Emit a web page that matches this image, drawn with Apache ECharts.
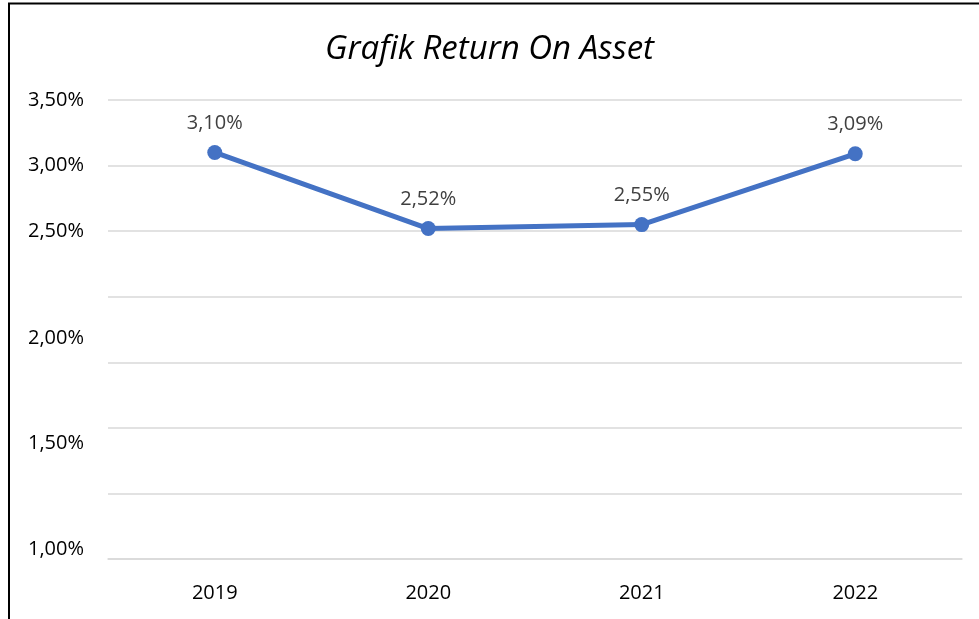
<!DOCTYPE html>
<html>
<head>
<meta charset="utf-8">
<script src="https://cdn.jsdelivr.net/npm/echarts@6/dist/echarts.min.js"></script>
<style>
  html, body { margin: 0; padding: 0; background: #fff; }
  #chart { width: 979px; height: 619px; }
</style>
</head>
<body>
<div id="chart"></div>
<script>
// data
var years = ['2019', '2020', '2021', '2022']
var roa = [3.10, 2.52, 2.55, 3.09]
// tick labels (the lower ones sit on their own spacing in the original)
var upperTicks = [2.5, 3.0, 3.5]
var lowerTicks = [1.0, 1.5, 2.0]

var font = 'Open Sans'
function pct (v) { return v.toFixed(2).replace('.', ',') + '%' }

var chart = echarts.init(document.getElementById('chart'))
chart.setOption({
  backgroundColor: '#fff',
  animation: false,
  title: {
    text: 'Grafik Return On Asset',
    left: 'center',
    top: 28,
    textStyle: { fontFamily: font, fontStyle: 'italic', fontWeight: 'normal', fontSize: 33, color: '#000' }
  },
  grid: { left: 108, right: 17, top: 100, bottom: 60 },
  xAxis: {
    type: 'category',
    data: years,
    axisLine: { lineStyle: { color: '#d9d9d9', width: 1.5 } },
    axisTick: { show: false },
    axisLabel: { color: '#000', fontFamily: font, fontSize: 20, margin: 24 }
  },
  yAxis: [
    {
      type: 'value',
      min: 0,
      max: 3.5,
      interval: 0.5,
      axisLine: { show: false },
      axisTick: { show: false },
      splitLine: { lineStyle: { color: '#d9d9d9', width: 1.5 } },
      axisLabel: { customValues: upperTicks, formatter: pct, color: '#000', fontFamily: font, fontSize: 20, margin: 24 }
    },
    {
      type: 'value',
      position: 'left',
      min: 0.952,
      max: 3.127,
      axisLine: { show: false },
      axisTick: { show: false },
      splitLine: { show: false },
      axisLabel: { customValues: lowerTicks, formatter: pct, color: '#000', fontFamily: font, fontSize: 20, margin: 24 }
    }
  ],
  series: [{
    type: 'line',
    yAxisIndex: 0,
    data: roa,
    symbol: 'circle',
    symbolSize: 15,
    lineStyle: { color: '#4472c4', width: 5 },
    itemStyle: { color: '#4472c4' },
    label: {
      show: true,
      position: 'top',
      distance: 12,
      formatter: function (p) { return pct(p.value) },
      color: '#404040',
      fontFamily: font,
      fontSize: 20
    }
  }],
  graphic: [{
    type: 'rect',
    shape: { x: 9, y: 3.5, width: 1100, height: 800 },
    style: { fill: null, stroke: '#000', lineWidth: 2 },
    silent: true
  }]
})
</script>
</body>
</html>
